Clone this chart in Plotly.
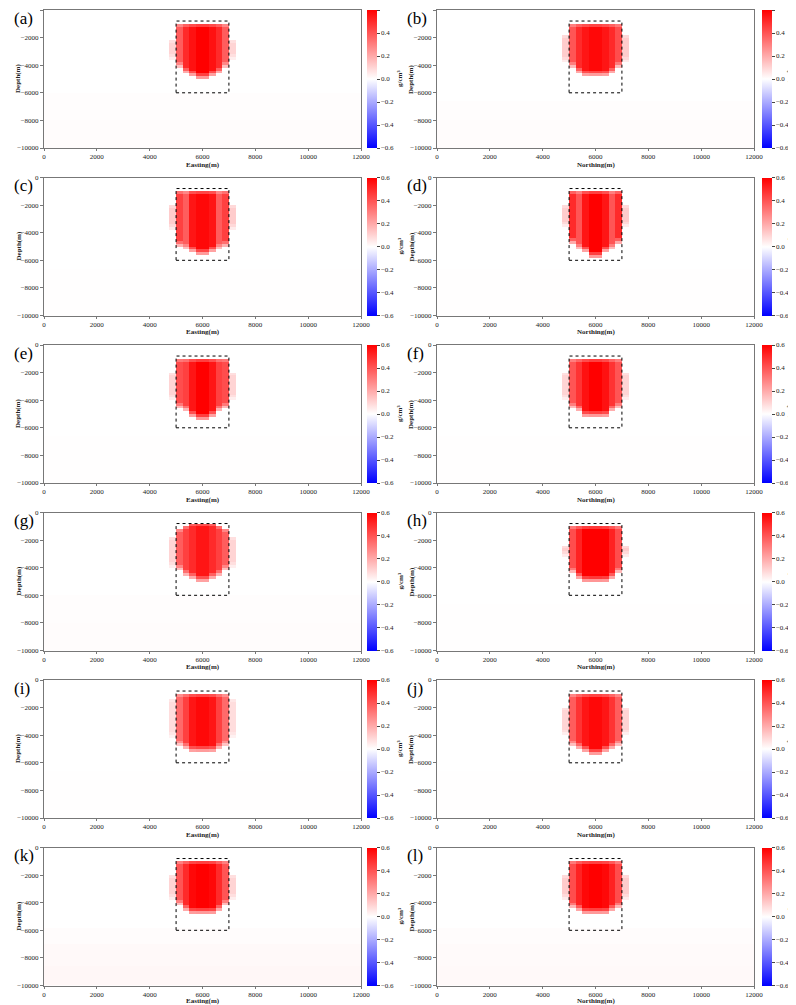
import numpy as np
import plotly.graph_objects as go
from plotly.subplots import make_subplots

# ---------------- data ----------------
panel_labels = ["(a)", "(b)", "(c)", "(d)", "(e)", "(f)", "(g)", "(h)", "(i)", "(j)", "(k)", "(l)"]
x_titles = ["Easting(m)", "Northing(m)"]
y_title = "Depth(m)"
x_ticks = [0, 2000, 4000, 6000, 8000, 10000, 12000]
y_ticks = [0, -2000, -4000, -6000, -8000, -10000]
cb_ticks = [-0.6, -0.4, -0.2, 0.0, 0.2, 0.4, 0.6]
cb_ticktext = ["\u22120.6", "\u22120.4", "\u22120.2", "0.0", "0.2", "0.4", "0.6"]
cb_title = "g/cm³"

# model box (m)
box_x = [5000, 7000]
box_z = [-800, -6000]

# anomaly columns (cell centres, 250 m wide)
col_centers = [4875, 5125, 5375, 5625, 5875, 6125, 6375, 6625, 6875, 7125]

col_tops = [
    [-2200, -1000, -1000, -1000, -1000, -1000, -1000, -1000, -1000, -2200],  # a
    [-1700, -1000, -1000, -1000, -1000, -1000, -1000, -1000, -1000, -1700],  # b
    [-1900, -1000, -1000, -1000, -1000, -1000, -1000, -1000, -1000, -1900],  # c
    [-2000, -1000, -1000, -1000, -1000, -1000, -1000, -1000, -1000, -2000],  # d
    [-2000, -1000, -1000, -1000, -1000, -1000, -1000, -1000, -1000, -2000],  # e
    [-2000, -1000, -1000, -1000, -1000, -1000, -1000, -1000, -1000, -2000],  # f
    [-1800, -1200, -1000, -800, -800, -800, -800, -1000, -1200, -1800],      # g
    [-2400, -1000, -1000, -1000, -1000, -1000, -1000, -1000, -1000, -2400],  # h
    [-1400, -1000, -1000, -1000, -1000, -1000, -1000, -1000, -1000, -1400],  # i
    [-1900, -1000, -1000, -1000, -1000, -1000, -1000, -1000, -1000, -1900],  # j
    [-1900, -1000, -1000, -1000, -1000, -1000, -1000, -1000, -1000, -1900],  # k
    [-1900, -1000, -1000, -1000, -1000, -1000, -1000, -1000, -1000, -1900],  # l
]
col_bottoms = [
    [-3600, -4200, -4600, -4800, -5000, -5000, -4800, -4600, -4200, -3600],  # a
    [-3800, -4300, -4600, -4800, -4900, -4900, -4800, -4600, -4300, -3800],  # b
    [-3800, -5000, -5200, -5400, -5600, -5600, -5400, -5200, -5000, -3800],  # c
    [-3700, -4800, -5200, -5500, -5800, -5800, -5500, -5200, -4800, -3700],  # d
    [-4000, -4600, -4900, -5200, -5400, -5400, -5200, -4900, -4600, -4000],  # e
    [-4000, -4700, -4900, -5200, -5300, -5300, -5200, -4900, -4700, -4000],  # f
    [-3950, -4300, -4600, -4850, -5000, -5000, -4850, -4600, -4300, -3950],  # g
    [-3300, -4500, -4800, -5000, -5050, -5050, -5000, -4800, -4500, -3300],  # h
    [-4300, -4800, -5000, -5200, -5300, -5300, -5200, -5000, -4800, -4300],  # i
    [-4000, -4800, -5000, -5300, -5400, -5400, -5300, -5000, -4800, -4000],  # j
    [-3850, -4300, -4600, -4800, -4900, -4900, -4800, -4600, -4300, -3850],  # k
    [-3850, -4400, -4600, -4800, -4900, -4900, -4800, -4600, -4400, -3850],  # l
]
col_values = [
    [0.10, 0.38, 0.50, 0.56, 0.60, 0.60, 0.56, 0.50, 0.38, 0.10],  # a
    [0.12, 0.40, 0.50, 0.55, 0.58, 0.58, 0.55, 0.50, 0.42, 0.12],  # b
    [0.12, 0.45, 0.38, 0.55, 0.58, 0.58, 0.55, 0.38, 0.45, 0.12],  # c
    [0.12, 0.50, 0.40, 0.55, 0.60, 0.60, 0.55, 0.40, 0.50, 0.12],  # d
    [0.10, 0.42, 0.45, 0.55, 0.60, 0.60, 0.55, 0.45, 0.42, 0.10],  # e
    [0.10, 0.40, 0.48, 0.56, 0.60, 0.60, 0.56, 0.48, 0.40, 0.10],  # f
    [0.10, 0.38, 0.45, 0.50, 0.55, 0.55, 0.50, 0.45, 0.38, 0.10],  # g
    [0.12, 0.42, 0.52, 0.60, 0.62, 0.62, 0.60, 0.52, 0.42, 0.12],  # h
    [0.08, 0.35, 0.45, 0.55, 0.58, 0.58, 0.55, 0.45, 0.35, 0.08],  # i
    [0.10, 0.38, 0.48, 0.55, 0.58, 0.58, 0.55, 0.48, 0.38, 0.10],  # j
    [0.10, 0.40, 0.50, 0.58, 0.60, 0.60, 0.58, 0.50, 0.40, 0.10],  # k
    [0.12, 0.42, 0.52, 0.58, 0.60, 0.60, 0.58, 0.52, 0.42, 0.12],  # l
]
# soft edges of the recovered body (fraction of column value)
top_fade = 0.75
bottom_fade = [0.4, 0.75]

# faint deep background tint: [depth where it starts, value]
bg_levels = [
    [[-6000, 0.004], [-8000, 0.007]],  # a
    [[-6500, 0.004], [-8000, 0.008]],  # b
    [[-6500, 0.002], [-8500, 0.003]],  # c
    [[-6500, 0.002], [-8500, 0.003]],  # d
    [[-6500, 0.002], [-8500, 0.003]],  # e
    [[-6500, 0.002], [-8500, 0.003]],  # f
    [[-6000, 0.004], [-8000, 0.006]],  # g
    [[-6500, 0.002], [-8500, 0.003]],  # h
    [[-6500, 0.002], [-8500, 0.003]],  # i
    [[-6500, 0.002], [-8500, 0.003]],  # j
    [[-5800, 0.008], [-7000, 0.013], [-8500, 0.018]],  # k
    [[-5800, 0.007], [-7000, 0.011], [-8500, 0.015]],  # l
]

# model mesh
cell_dx, cell_dz = 250, 200
x_centers = np.arange(cell_dx / 2, 12000, cell_dx)
z_centers = -np.arange(cell_dz / 2, 10000, cell_dz)


def build_grid(k):
    z = np.zeros((len(z_centers), len(x_centers)))
    for (d0, v) in bg_levels[k]:
        z[z_centers < d0, :] = v
    for c, t, b, v in zip(col_centers, col_tops[k], col_bottoms[k], col_values[k]):
        j = int(np.argmin(np.abs(x_centers - c)))
        rows = np.where((z_centers < t) & (z_centers > b))[0]
        if len(rows) == 0:
            continue
        z[rows, j] = v
        z[rows[0], j] = v * top_fade
        for i, f in enumerate(bottom_fade):
            if len(rows) > i + 1:
                z[rows[-1 - i], j] = v * f
    return z


# ---------------- figure ----------------
# the page body adds an 8 px margin: lay out in page pixels, then shift
OFF = 8
W, H = 796 - OFF, 1005 - OFF
col_left = [44, 437]
plot_w = 317
row_top = [10, 177.5, 345, 512.5, 680, 847.5]
plot_h = 138
cb_left = [367, 762]
cb_title_x = [400, 790]
label_x = [12, 405]
ytitle_x = [18, 411]


def px(v):
    return (v - OFF) / W


def py(v):
    return 1 - (v - OFF) / H


serif = "Liberation Serif, Times New Roman, serif"
txt = "#222"
bwr = [[0.0, "rgb(0,0,255)"], [0.5, "rgb(255,255,255)"], [1.0, "rgb(255,0,0)"]]

fig = make_subplots(rows=6, cols=2)

for k in range(12):
    r, c = divmod(k, 2)
    n = k + 1
    xa = "xaxis" if n == 1 else f"xaxis{n}"
    ya = "yaxis" if n == 1 else f"yaxis{n}"
    xref = "x" if n == 1 else f"x{n}"
    yref = "y" if n == 1 else f"y{n}"
    x0 = px(col_left[c])
    x1 = px(col_left[c] + plot_w)
    y1 = py(row_top[r])
    y0 = py(row_top[r] + plot_h)

    fig.add_trace(
        go.Heatmap(
            x=x_centers, y=z_centers, z=build_grid(k),
            colorscale=bwr, zmin=-0.6, zmax=0.6,
            showscale=True,
            colorbar=dict(
                x=px(cb_left[c]), xanchor="left",
                y=y1, yanchor="top",
                len=plot_h, lenmode="pixels",
                thickness=10, thicknessmode="pixels",
                xpad=0, ypad=0, outlinewidth=0,
                tickvals=cb_ticks, ticktext=cb_ticktext,
                ticks="outside", ticklen=3, tickcolor="#444",
                tickfont=dict(family=serif, size=7, color=txt),
            ),
            hoverinfo="skip",
        ),
        row=r + 1, col=c + 1,
    )

    fig.update_layout({
        xa: dict(domain=[x0, x1], range=[0, 12000], tickvals=x_ticks,
                 ticktext=[str(v) for v in x_ticks],
                 showgrid=False, zeroline=False, showline=True, mirror=True,
                 linecolor="#777", linewidth=1, ticks="outside", ticklen=2,
                 tickcolor="#777", tickfont=dict(family=serif, size=7, color=txt),
                 automargin=False),
        ya: dict(domain=[y0, y1], range=[-10000, 0], tickvals=y_ticks,
                 ticktext=["0"] + ["\u2212" + str(-v) for v in y_ticks[1:]],
                 showgrid=False, zeroline=False, showline=True, mirror=True,
                 linecolor="#777", linewidth=1, ticks="outside", ticklen=3,
                 tickcolor="#777", tickfont=dict(family=serif, size=7, color=txt),
                 automargin=False),
    })

    fig.add_shape(type="rect", xref=xref, yref=yref,
                  x0=box_x[0], x1=box_x[1], y0=box_z[1], y1=box_z[0],
                  line=dict(color="black", width=1, dash="dot"))

    # panel label
    fig.add_annotation(text=panel_labels[k], xref="paper", yref="paper",
                       x=px(label_x[c]), y=py(row_top[r] + 8),
                       xanchor="left", yanchor="middle", showarrow=False,
                       font=dict(family=serif, size=17, color="black"))
    # x-axis title
    title_y = min(row_top[r] + plot_h + 16.8, 1001.0)
    fig.add_annotation(text=f"<b>{x_titles[c]}</b>", xref="paper", yref="paper",
                       x=px(col_left[c] + plot_w / 2), y=py(title_y),
                       xanchor="center", yanchor="middle", showarrow=False,
                       font=dict(family=serif, size=7, color=txt))
    # y-axis title
    fig.add_annotation(text=f"<b>{y_title}</b>", xref="paper", yref="paper",
                       x=px(ytitle_x[c]), y=py(row_top[r] + plot_h / 2),
                       xanchor="center", yanchor="middle", showarrow=False,
                       textangle=-90,
                       font=dict(family=serif, size=7, color=txt))
    # colorbar title
    fig.add_annotation(text=f"<b>{cb_title}</b>", xref="paper", yref="paper",
                       x=px(cb_title_x[c]), y=py(row_top[r] + plot_h / 2),
                       xanchor="center", yanchor="middle", showarrow=False,
                       textangle=-90,
                       font=dict(family=serif, size=7, color=txt))

fig.update_layout(
    width=W, height=H,
    margin=dict(l=0, r=0, t=0, b=0, autoexpand=False),
    paper_bgcolor="white", plot_bgcolor="white",
    showlegend=False,
)

fig.write_html("out.html")
